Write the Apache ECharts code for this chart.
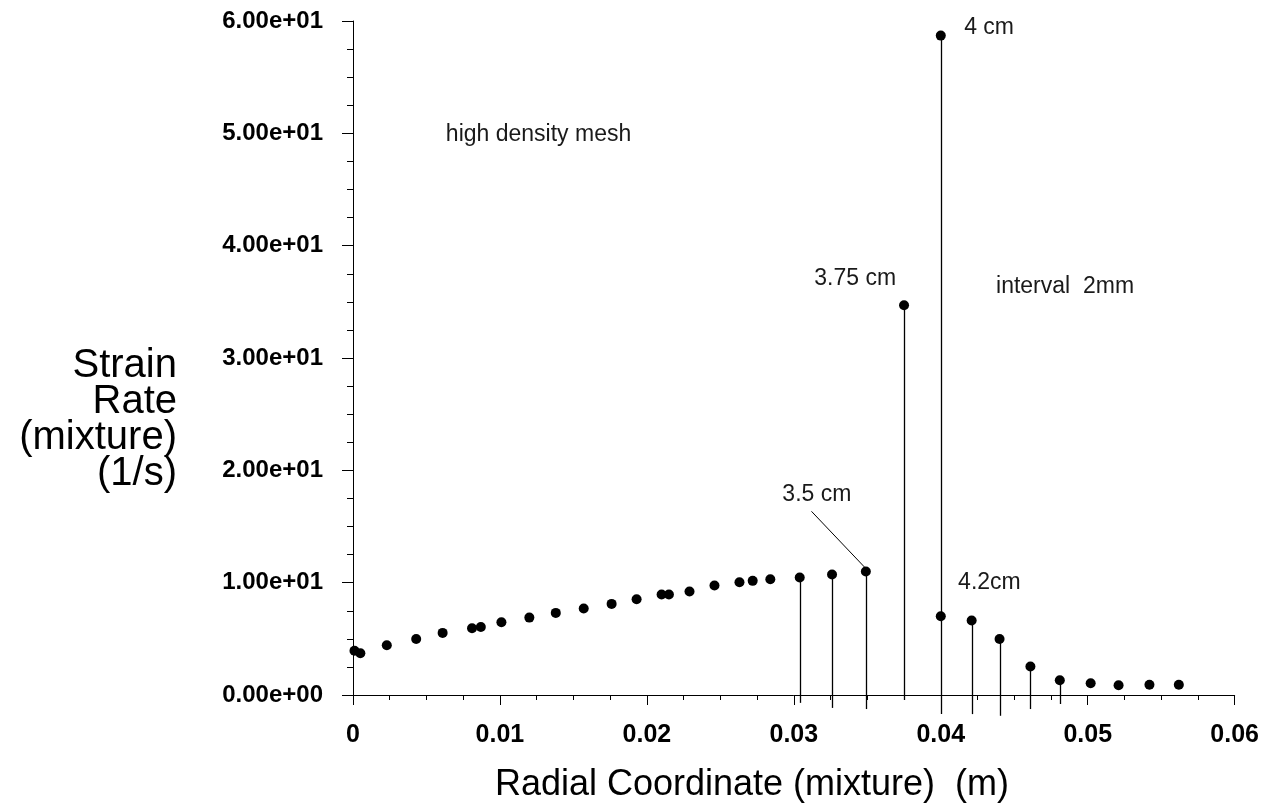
<!DOCTYPE html>
<html>
<head>
<meta charset="utf-8">
<script src="https://cdn.jsdelivr.net/npm/echarts@6/dist/echarts.min.js"></script>
<style>
html,body{margin:0;padding:0;background:#fff;}
#chart{width:1262px;height:809px;}
</style>
</head>
<body>
<div id="chart"></div>
<script>
// ---- data ----
const pointX = [0.0001, 0.0005, 0.0023, 0.0043, 0.0061, 0.0081, 0.0087, 0.0101, 0.0120, 0.0138,
                0.0157, 0.0176, 0.0193, 0.0210, 0.0215, 0.0229, 0.0246, 0.0263, 0.0272, 0.0284,
                0.0304, 0.0326, 0.0349, 0.0375, 0.0400, 0.0400, 0.0421, 0.0440, 0.0461, 0.0481,
                0.0502, 0.0521, 0.0542, 0.0562];
const pointY = [3.94, 3.71, 4.43, 4.99, 5.53, 5.94, 6.06, 6.48, 6.89, 7.31,
                7.70, 8.11, 8.53, 8.94, 8.94, 9.21, 9.74, 10.04, 10.16, 10.31,
                10.46, 10.73, 11.00, 34.70, 58.70, 7.01, 6.63, 4.99, 2.53, 1.31,
                1.04, 0.86, 0.92, 0.92];
// vertical mesh lines (stems) drawn from the point down past the axis
const stemX      = [0.0304, 0.0326, 0.0349, 0.0375, 0.0400, 0.0421, 0.0440, 0.0461, 0.0481];
const stemTop    = [10.46, 10.73, 11.00, 34.70, 58.70, 6.63, 4.99, 2.53, 1.31];
const stemBottom = [-0.70, -1.15, -1.25, -0.45, -1.70, -1.70, -1.85, -1.25, -0.80];
// annotations (left edge / vertical centre in data units)
const noteText = ['high density mesh', '4 cm', '3.75 cm', 'interval  2mm', '3.5 cm', '4.2cm'];
const noteX    = [0.00632, 0.04159, 0.03139, 0.04376, 0.02922, 0.04118];
const noteY    = [49.85, 59.38, 37.03, 36.32, 17.80, 9.97];
// leader line for the 3.5 cm label
const leaderX = [0.03120, 0.03480];
const leaderY = [16.35, 11.40];
// axes
const xMin = 0, xMax = 0.06, xStep = 0.01;
const yMin = 0, yMax = 60, yStep = 10;
const xTitle = 'Radial Coordinate (mixture)  (m)';
const yTitle = 'Strain\nRate\n(mixture)\n(1/s)';

const FONT = "'Liberation Sans', Arial, sans-serif";
const points = pointX.map((x, i) => [x, pointY[i]]);
const stems = stemX.map((x, i) => [x, stemTop[i], stemBottom[i]]);
const leader = leaderX.map((x, i) => [x, leaderY[i]]);

function fmtY(v) {
  const s = Number(v).toExponential(2); // e.g. 6.00e+1
  return s.replace(/e([+-])(\d)$/, 'e$10$2');
}

const chart = echarts.init(document.getElementById('chart'), null, {renderer: 'canvas'});
const option = {
  backgroundColor: '#ffffff',
  animation: false,
  grid: {left: 353, right: 26, top: 21, bottom: 114, containLabel: false},
  xAxis: {
    type: 'value', min: xMin, max: xMax, interval: xStep,
    axisLine: {show: true, onZero: false, lineStyle: {color: '#000', width: 1}},
    axisTick: {show: true, inside: false, length: 10, lineStyle: {color: '#000', width: 1}},
    minorTick: {show: true, splitNumber: 4, length: 5, lineStyle: {color: '#000', width: 1}},
    splitLine: {show: false},
    minorSplitLine: {show: false},
    axisLabel: {
      margin: 28, color: '#000', fontFamily: FONT, fontWeight: 'bold', fontSize: 25,
      formatter: v => (v === 0 ? '0' : Number(v).toFixed(2))
    }
  },
  yAxis: {
    type: 'value', min: yMin, max: yMax, interval: yStep,
    axisLine: {show: true, onZero: false, lineStyle: {color: '#000', width: 1}},
    axisTick: {show: true, inside: false, length: 11, lineStyle: {color: '#000', width: 1}},
    minorTick: {show: true, splitNumber: 4, length: 6, lineStyle: {color: '#000', width: 1}},
    splitLine: {show: false},
    minorSplitLine: {show: false},
    axisLabel: {
      margin: 30, color: '#000', fontFamily: FONT, fontWeight: 'bold', fontSize: 24,
      formatter: fmtY
    }
  },
  series: [
    {
      type: 'custom',
      name: 'stems',
      clip: false,
      silent: true,
      z: 1,
      data: stems,
      renderItem: function (params, api) {
        const top = api.coord([api.value(0), api.value(1)]);
        const bot = api.coord([api.value(0), api.value(2)]);
        const x = Math.round(top[0]) + 0.5;
        return {
          type: 'line',
          shape: {x1: x, y1: top[1], x2: x, y2: bot[1]},
          style: {stroke: '#000', lineWidth: 1.3}
        };
      }
    },
    {
      type: 'line',
      name: 'leader',
      data: leader,
      symbol: 'none',
      silent: true,
      z: 1,
      lineStyle: {color: '#000', width: 1}
    },
    {
      type: 'scatter',
      name: 'strain',
      data: points,
      symbol: 'circle',
      symbolSize: 10,
      z: 3,
      itemStyle: {color: '#000', opacity: 1}
    }
  ],
  graphic: [
    {
      type: 'text', x: 752, y: 785, z: 10,
      style: {text: xTitle, font: '36px ' + FONT, fill: '#000',
              textAlign: 'center', align: 'center',
              textVerticalAlign: 'middle', verticalAlign: 'middle'}
    },
    {
      type: 'text', x: 177, y: 420, z: 10,
      style: {text: yTitle, font: '40px ' + FONT, fill: '#000', lineHeight: 36,
              textAlign: 'right', align: 'right',
              textVerticalAlign: 'middle', verticalAlign: 'middle'}
    }
  ]
};
chart.setOption(option);

// annotations placed from data coordinates
const noteGraphics = noteText.map((t, i) => {
  const p = chart.convertToPixel({xAxisIndex: 0, yAxisIndex: 0}, [noteX[i], noteY[i]]);
  return {
    type: 'text', x: p[0], y: p[1], z: 10,
    style: {text: t, font: '23px ' + FONT, fill: '#1a1a1a',
            textAlign: 'left', align: 'left',
            textVerticalAlign: 'middle', verticalAlign: 'middle'}
  };
});
chart.setOption({graphic: option.graphic.concat(noteGraphics)});
</script>
</body>
</html>
